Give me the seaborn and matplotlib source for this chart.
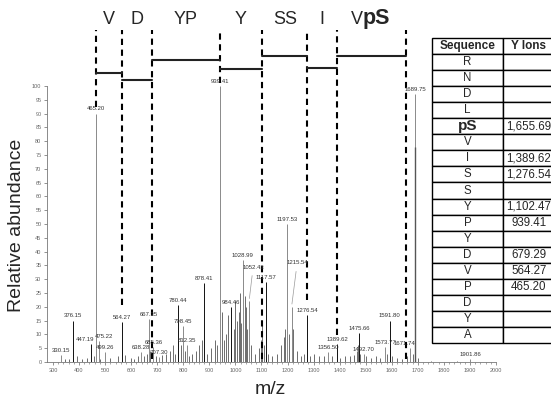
import numpy as np
import pandas as pd
import seaborn as sns
import matplotlib
matplotlib.use("Agg")
import matplotlib.pyplot as plt

# labelled peaks (m/z, relative abundance)
peak_mz = [330.15, 376.15, 447.19, 465.20, 475.22, 499.26, 564.27, 638.28, 667.35,
           685.36, 707.30, 780.44, 798.45, 812.35, 878.41, 939.41, 984.46, 1028.99,
           1052.43, 1117.57, 1197.53, 1215.54, 1276.54, 1356.50, 1389.62, 1475.66,
           1492.70, 1573.77, 1591.80, 1671.74, 1689.75, 1901.86]
peak_int = [2.5, 15, 6.5, 90, 7.5, 3.5, 14.5, 3.5, 15.5,
            5.5, 1.8, 20.5, 13, 6, 28.5, 100, 20, 37,
            22, 29, 50, 20, 17, 3.5, 6.5, 10.5,
            3, 5.5, 15, 5, 97, 1]

# unlabelled minor peaks
minor_mz = [345, 360, 392, 410, 430, 458, 482, 520, 548, 575, 598, 612, 625, 650, 660,
            672, 695, 720, 735, 750, 762, 770, 790, 805, 820, 835, 850, 862, 870, 890,
            905, 920, 930, 948, 955, 962, 970, 995, 1000, 1005, 1012, 1018, 1022, 1035,
            1040, 1045, 1060, 1075, 1090, 1098, 1102.47, 1108, 1125, 1140, 1160, 1175,
            1185, 1190, 1205, 1222, 1235, 1250, 1265, 1285, 1300, 1320, 1340, 1370,
            1400, 1420, 1440, 1455, 1465, 1470, 1480, 1500, 1520, 1540, 1555, 1580,
            1600, 1620, 1640, 1660, 1680, 1700, 1750, 1850]
minor_int = [1, 1, 2, 1, 1.5, 2, 1, 1.5, 2, 2.5, 1.5, 1, 2, 2, 3,
             4, 2, 2.5, 3, 4, 6, 3, 6, 4, 2, 3, 4, 6, 8, 3,
             5, 8, 6, 18, 8, 10, 17, 12, 22, 15, 18, 25, 14, 24,
             20, 12, 6, 3, 5, 8, 15, 6, 3, 2, 3, 6,
             9, 12, 10, 12, 4, 2, 3, 2, 3, 2, 2, 2,
             1.5, 2, 2, 2.5, 4, 6, 3, 2, 1.5, 2, 1.5, 3,
             2, 1.5, 1, 2, 3, 1.5, 0.5, 0.5]

# fragment ladder: boundaries (y ions) and residues between them
ladder_mz = [465.20, 564.27, 679.29, 939.41, 1102.47, 1276.54, 1389.62, 1655.69]
ladder_bottom = [92.4, 20.6, 1, 101, 1, 22.5, 9.8, 1]
residues = ["V", "D", "YP", "Y", "SS", "I", "VpS"]
step_level = [104.7, 102.2, 109.4, 106.2, 110.9, 106.5, 110.9]

# table
seq_letters = ["R", "N", "D", "L", "pS", "V", "I", "S", "S", "Y", "P", "Y",
               "D", "V", "P", "D", "Y", "A"]
y_ions = ["", "", "", "", "1,655.69", "", "1,389.62", "1,276.54", "", "1,102.47",
          "939.41", "", "679.29", "564.27", "465.20", "", "", ""]

dark_peaks = [376.15, 447.19, 564.27, 780.44, 878.41, 984.46, 1117.57, 1276.54,
              1389.62, 1475.66, 1591.80]
leader_labels = {1052.43: (1068, 33.5), 1215.54: (1237, 35)}
label_shift = {447.19: -25, 475.22: 22, 1671.74: -25}


def draw_spectrum(ax):
    minor = pd.DataFrame({"mz": minor_mz, "int": minor_int})
    peaks = pd.DataFrame({"mz": peak_mz, "int": peak_int})
    ax.vlines(minor["mz"], 0, minor["int"], color="#555555", lw=0.6)
    for mz, h in zip(peaks["mz"], peaks["int"]):
        col = "#111111" if mz in dark_peaks else "#8a8a8a"
        ax.vlines(mz, 0, h, color=col, lw=0.7)
        if mz in leader_labels:
            lx, ly = leader_labels[mz]
            ax.annotate(f"{mz:.2f}", xy=(mz, h), xytext=(lx, ly), fontsize=4.3,
                        ha="center", va="bottom", color="#333333",
                        arrowprops=dict(arrowstyle="-", color="#999999", lw=0.5))
        else:
            ax.text(mz + label_shift.get(mz, 0), h + 0.8, f"{mz:.2f}", fontsize=4.3,
                    ha="center", va="bottom", color="#333333")
    # overlapping darker peak under 1689.75
    ax.vlines(1689.75, 0, 78, color="#555555", lw=1.0)


def draw_ladder(ax):
    top = 120.3
    for mz, b in zip(ladder_mz, ladder_bottom):
        ax.plot([mz, mz], [b, top], color="black", lw=1.5,
                linestyle=(0, (3, 2.2)), clip_on=False)
    for i, name in enumerate(residues):
        x0, x1 = ladder_mz[i], ladder_mz[i + 1]
        ax.plot([x0, x1], [step_level[i], step_level[i]], color="#222222",
                lw=1.5, clip_on=False)
        mid = (x0 + x1) / 2
        if name == "VpS":
            ax.text(mid - 35, 124, "V", fontsize=13, ha="right", va="center",
                    clip_on=False)
            ax.text(mid - 35, 124.6, "pS", fontsize=15.5, fontweight="bold",
                    ha="left", va="center", clip_on=False)
        else:
            ax.text(mid, 124, name, fontsize=13, ha="center", va="center",
                    clip_on=False)


def draw_table(fig):
    tax = fig.add_axes([432 / 551, 1 - 343 / 401, 122 / 551, (343 - 38) / 401])
    tax.axis("off")
    cells = [[s, v] for s, v in zip(seq_letters, y_ions)]
    tab = tax.table(cellText=cells, colLabels=["Sequence", "Y Ions"],
                    bbox=[0, 0, 1, 1], colWidths=[0.585, 0.415], cellLoc="center")
    tab.auto_set_font_size(False)
    for (r, c), cell in tab.get_celld().items():
        cell.set_linewidth(1.0)
        cell.set_edgecolor("black")
        t = cell.get_text()
        t.set_fontsize(8.3)
        if r == 0:
            t.set_fontweight("bold")
            t.set_fontsize(8.5)
        elif c == 0 and seq_letters[r - 1] == "pS":
            t.set_fontweight("bold")
            t.set_fontsize(11)


def main():
    sns.set_theme(style="ticks")
    plt.rcParams["font.family"] = ["Liberation Sans", "DejaVu Sans"]
    fig = plt.figure(figsize=(5.51, 4.01), dpi=100)
    ax = fig.add_axes([47 / 551, 1 - 362 / 401, (496 - 47) / 551, (362 - 86) / 401])

    draw_spectrum(ax)
    draw_ladder(ax)

    ax.set_xlim(277, 2000)
    ax.set_ylim(0, 100)
    ax.set_xticks(np.arange(300, 2001, 100))
    ax.set_xticks(np.arange(300, 2001, 20), minor=True)
    ax.set_yticks(np.arange(0, 101, 5))
    ax.tick_params(axis="both", labelsize=4, colors="#666666", length=2.5,
                   width=0.5, pad=1.5)
    ax.tick_params(axis="x", which="minor", length=1.5, width=0.4, colors="#666666")
    sns.despine(ax=ax)
    for s in ["left", "bottom"]:
        ax.spines[s].set_color("#777777")
        ax.spines[s].set_linewidth(0.6)

    fig.text(17 / 551, 1 - 225 / 401, "Relative abundance", rotation=90,
             fontsize=14, ha="center", va="center")
    fig.text(270 / 551, 1 - 389 / 401, "m/z", fontsize=14, ha="center", va="center")

    draw_table(fig)
    fig.savefig("out.png", dpi=100)


if __name__ == "__main__":
    main()
